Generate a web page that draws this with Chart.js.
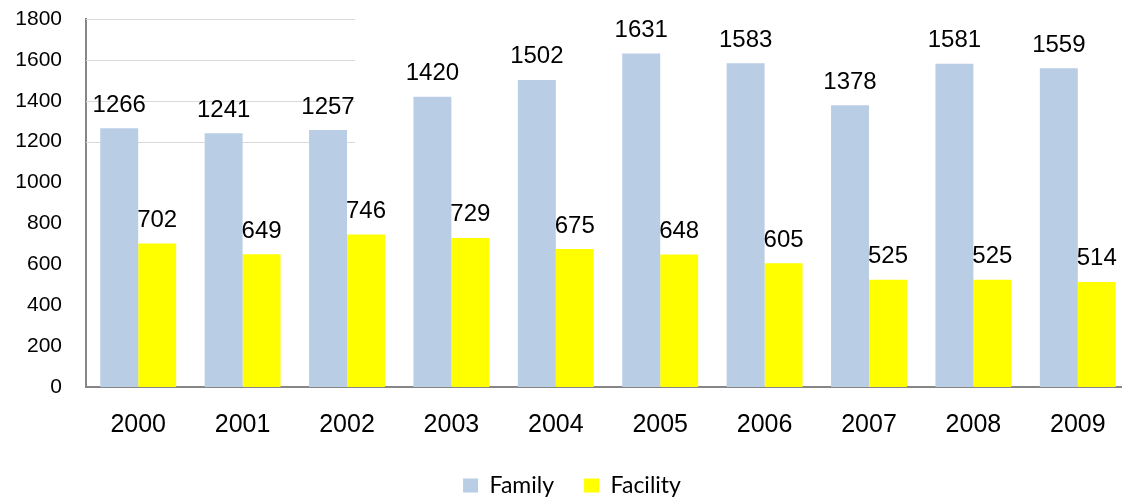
<!DOCTYPE html>
<html>
<head>
<meta charset="utf-8">
<script src="https://cdn.jsdelivr.net/npm/chart.js@4.4.1/dist/chart.umd.min.js"></script>
<style>
  html, body { margin: 0; padding: 0; background: #fff; overflow: hidden; }
  #wrap { width: 1122px; height: 498px; overflow: hidden; position: relative; }
  #box { width: 1130px; height: 507px; position: absolute; left: 0; top: 0; }
</style>
</head>
<body>
<div id="wrap"><div id="box"><canvas id="c"></canvas></div></div>
<script>
const categories = ['2000','2001','2002','2003','2004','2005','2006','2007','2008','2009'];
const familyValues = [1266,1241,1257,1420,1502,1631,1583,1378,1581,1559];
const facilityValues = [702,649,746,729,675,648,605,525,525,514];
const yTickValues = [0,200,400,600,800,1000,1200,1400,1600,1800];
const seriesNames = ['Family','Facility'];

const partialGrid = {
  id: 'partialGrid',
  beforeDatasetsDraw(chart) {
    const y = chart.scales.y, ctx = chart.ctx, a = chart.chartArea;
    ctx.save();
    ctx.strokeStyle = '#d9d9d9';
    ctx.lineWidth = 1.2;
    yTickValues.filter(v => v >= 1200).forEach(v => {
      const py = Math.round(y.getPixelForValue(v)) + 0.5;
      ctx.beginPath();
      ctx.moveTo(a.left, py);
      ctx.lineTo(a.left + 269, py);
      ctx.stroke();
    });
    ctx.restore();
  }
};

const dataLabels = {
  id: 'dataLabels',
  afterDatasetsDraw(chart) {
    const ctx = chart.ctx;
    ctx.save();
    ctx.font = '24px "Liberation Sans", Arial, sans-serif';
    ctx.fillStyle = '#000';
    ctx.textAlign = 'center';
    ctx.textBaseline = 'alphabetic';
    chart.data.datasets.forEach((ds, i) => {
      chart.getDatasetMeta(i).data.forEach((el, j) => {
        ctx.fillText(String(ds.data[j]), el.x, el.y - 16.5);
      });
    });
    ctx.restore();
  }
};

new Chart(document.getElementById('c'), {
  type: 'bar',
  data: {
    labels: categories,
    datasets: [
      { label: seriesNames[0], data: familyValues, backgroundColor: '#B9CDE5', borderWidth: 0 },
      { label: seriesNames[1], data: facilityValues, backgroundColor: '#FFFF00', borderWidth: 0 }
    ]
  },
  options: {
    responsive: true,
    maintainAspectRatio: false,
    animation: false,
    layout: { padding: { left: 14, right: 0, top: 19, bottom: 0 } },
    datasets: { bar: { categoryPercentage: 0.727, barPercentage: 1.0 } },
    plugins: {
      tooltip: { enabled: false },
      legend: {
        position: 'bottom',
        labels: {
          boxWidth: 15, boxHeight: 14, padding: 30, color: '#000',
          font: { family: 'Lato', size: 23 }
        }
      }
    },
    scales: {
      x: {
        grid: { display: false, drawTicks: false },
        border: { display: true, color: '#868686', width: 2 },
        ticks: { color: '#000', padding: 23, font: { family: '"Liberation Sans", Arial', size: 25 } },
        afterFit(s) { s.height = 57; }
      },
      y: {
        min: 0, max: 1800,
        grid: { display: false, drawTicks: false },
        border: { display: true, color: '#868686', width: 2 },
        ticks: { stepSize: 200, color: '#000', padding: 24, font: { family: '"Liberation Sans", Arial', size: 21 },
                 callback: (v) => String(v) },
        afterFit(s) { s.width = 72; s.paddingTop = 0; s.paddingBottom = 0; }
      }
    }
  },
  plugins: [partialGrid, dataLabels]
});
</script>
</body>
</html>
